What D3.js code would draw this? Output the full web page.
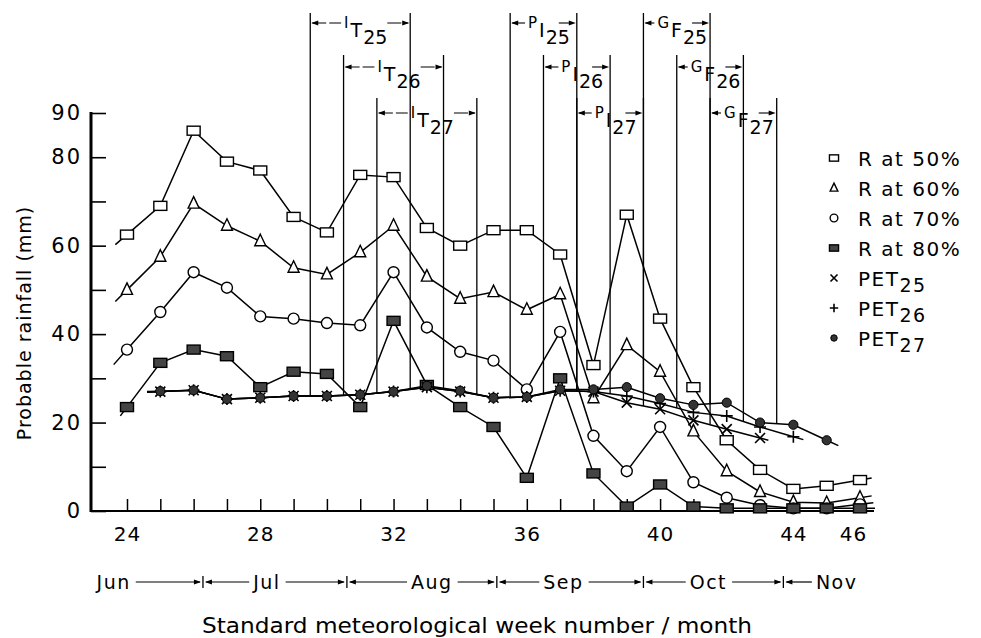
<!DOCTYPE html>
<html>
<head>
<meta charset="utf-8">
<script src="https://cdn.jsdelivr.net/npm/d3@7"></script>
<style>
body{margin:0;background:#fff;}
svg{display:block;font-family:'DejaVu Sans',sans-serif;}
</style>
</head>
<body>
<svg id="chart" width="981" height="638"></svg>
<script>
// weekly probable rainfall (mm) at each probability level, weeks 24..46
var weeks = d3.range(24, 47);
var r50 = [62.5, 69, 86, 79, 77, 66.5, 63, 76, 75.5, 64, 60, 63.5, 63.5, 58, 33, 67, 43.5, 28, 16, 9.3, 5, 5.7, 7];
var r60 = [50, 57.5, 69.5, 64.5, 61, 55, 53.5, 58.5, 64.5, 53, 48, 49.5, 45.5, 49, 25.5, 37.5, 31.5, 18, 9, 4.3, 2, 1.8, 3];
var r70 = [36.5, 45, 54, 50.5, 44, 43.5, 42.5, 42, 54, 41.5, 36, 34, 27.5, 40.5, 17, 9, 19, 6.5, 3, 1.3, 0.6, 0.6, 1.5];
var r80 = [23.5, 33.5, 36.5, 35, 28, 31.5, 31, 23.5, 43, 28.5, 23.5, 19, 7.5, 30, 8.5, 1, 6, 1, 0.6, 0.6, 0.6, 0.6, 0.6];

// potential evapotranspiration for the three years
var pet25Weeks = d3.range(25, 44);
var pet25 = [27, 27.3, 25.3, 25.6, 26, 26, 26.3, 27, 28, 27, 25.6, 25.8, 27.2, 27, 24.5, 23, 20.5, 18.5, 16.5];
var pet26Weeks = d3.range(25, 45);
var pet26 = [27, 27.3, 25.3, 25.6, 26, 26, 26.3, 27, 28, 27, 25.6, 25.8, 27.2, 27, 26, 24.3, 22.3, 21.5, 19, 16.8];
var pet27Weeks = d3.range(25, 46);
var pet27 = [27.1, 27.3, 25.3, 25.6, 26, 26, 26.3, 27, 28.3, 27.2, 25.6, 25.8, 27.5, 27.5, 28, 25.5, 24, 24.5, 20, 19.5, 16];

// crop stage windows (week numbers)
var stageSup = ['I', 'I', 'I', 'P', 'P', 'P', 'G', 'G', 'G'];
var stageMain = ['T', 'T', 'T', 'I', 'I', 'I', 'F', 'F', 'F'];
var stageYear = ['25', '26', '27', '25', '26', '27', '25', '26', '27'];
var stageStart = [29.5, 30.5, 31.5, 35.5, 36.5, 37.5, 39.5, 40.5, 41.5];
var stageEnd = [32.5, 33.5, 34.5, 37.5, 38.5, 39.5, 41.5, 42.5, 43.5];

var months = ['Jun', 'Jul', 'Aug', 'Sep', 'Oct', 'Nov'];
var monthWeek = [23.6, 28.2, 33.15, 37.1, 41.45, 45.3];
var monthBreaks = [26.28, 30.6, 35.1, 39.5, 43.7];

var xTickLabels = [24, 28, 32, 36, 40, 44, 46];
var yTickLabels = [0, 20, 40, 60, 80, 90];

var legendNames = ['R at 50%', 'R at 60%', 'R at 70%', 'R at 80%', 'PET', 'PET', 'PET'];
var legendSubs = ['', '', '', '', '25', '26', '27'];

var svg = d3.select('#chart');
var x = d3.scaleLinear().domain([24, 46]).range([127, 860]);
var y = d3.scaleLinear().domain([0, 90]).range([511, 113]);

var series = [
    {wk: weeks, v: r50, type: 'square', a: 0.35, b: 0.35},
    {wk: weeks, v: r60, type: 'tri', a: 0.35, b: 0.35},
    {wk: weeks, v: r70, type: 'circle', a: 0.4, b: 0.4},
    {wk: weeks, v: r80, type: 'fsquare', a: 0.2, b: 0.45},
    {wk: pet25Weeks, v: pet25, type: 'x', a: 0.4, b: 0.25},
    {wk: pet26Weeks, v: pet26, type: 'plus', a: 0.4, b: 0.3},
    {wk: pet27Weeks, v: pet27, type: 'dot', a: 0.4, b: 0.35}
];

function arrowHead(g, px, py, dir){
    // dir = 1 points right, -1 points left
    g.append('path')
        .attr('d', 'M' + px + ',' + py + 'L' + (px - dir * 7) + ',' + (py - 2.6) + 'L' + (px - dir * 7) + ',' + (py + 2.6) + 'Z')
        .attr('fill', '#000');
}

function valueAt(wk, v, w){
    var i = d3.bisectRight(wk, w);
    if(i <= 0) return v[0];
    if(i >= wk.length) return v[v.length - 1];
    var t = (w - wk[i - 1]) / (wk[i] - wk[i - 1]);
    return v[i - 1] + t * (v[i] - v[i - 1]);
}

function drawMarker(g, type, cx, cy, s){
    if(type == 'square' || type == 'fsquare'){
        g.append('rect')
            .attr('x', cx - 6.5 * s).attr('y', cy - 4.5 * s)
            .attr('width', 13 * s).attr('height', 9 * s)
            .attr('fill', type == 'square' ? '#fff' : '#444')
            .attr('stroke', '#000').attr('stroke-width', 1.4);
    } else if(type == 'tri'){
        g.append('path')
            .attr('d', 'M' + cx + ',' + (cy - 7 * s) + 'L' + (cx + 5.5 * s) + ',' + (cy + 4.5 * s) + 'L' + (cx - 5.5 * s) + ',' + (cy + 4.5 * s) + 'Z')
            .attr('fill', '#fff').attr('stroke', '#000').attr('stroke-width', 1.4);
    } else if(type == 'circle'){
        g.append('circle').attr('cx', cx).attr('cy', cy).attr('r', 5.5 * s)
            .attr('fill', '#fff').attr('stroke', '#000').attr('stroke-width', 1.4);
    } else if(type == 'dot'){
        g.append('circle').attr('cx', cx).attr('cy', cy).attr('r', 4.6 * s)
            .attr('fill', '#333').attr('stroke', '#000').attr('stroke-width', 1);
    } else if(type == 'x'){
        var d = 5 * s;
        g.append('path')
            .attr('d', 'M' + (cx - d) + ',' + (cy - d) + 'L' + (cx + d) + ',' + (cy + d) + 'M' + (cx - d) + ',' + (cy + d) + 'L' + (cx + d) + ',' + (cy - d))
            .attr('stroke', '#000').attr('stroke-width', 1.6);
    } else if(type == 'plus'){
        var p = 6 * s;
        g.append('path')
            .attr('d', 'M' + (cx - p) + ',' + cy + 'L' + (cx + p) + ',' + cy + 'M' + cx + ',' + (cy - p) + 'L' + cx + ',' + (cy + p))
            .attr('stroke', '#000').attr('stroke-width', 1.6);
    }
}

// ---------- crop stage brackets ----------
var rowTop = [13, 55, 98];
var rowArrow = [23, 67, 113];
var pets = [[pet25Weeks, pet25], [pet26Weeks, pet26], [pet27Weeks, pet27]];
var stages = svg.append('g').attr('class', 'stages');
stageStart.forEach(function(s, i){
    var row = i % 3;
    var L = x(s), R = x(stageEnd[i]);
    var pet = pets[row];
    [s, stageEnd[i]].forEach(function(w){
        stages.append('line')
            .attr('x1', x(w)).attr('x2', x(w))
            .attr('y1', rowTop[row]).attr('y2', y(valueAt(pet[0], pet[1], w)))
            .attr('stroke', '#000').attr('stroke-width', 1.3);
    });
    var ay = rowArrow[row];
    var t = stages.append('text').attr('y', ay + 14).attr('fill', '#000');
    t.append('tspan').attr('font-size', 15).attr('dy', -9).text(stageSup[i]);
    t.append('tspan').attr('font-size', 19).attr('dx', 2).attr('dy', 9).text(stageMain[i]);
    t.append('tspan').attr('font-size', 19).attr('dx', 1).attr('dy', 7).text(stageYear[i]);
    var w = t.node().getComputedTextLength();
    var tx = (L + R) / 2 - w / 2 + 4;
    t.attr('x', tx);
    // left arrow
    stages.append('line').attr('x1', L + 2).attr('x2', tx - 3).attr('y1', ay).attr('y2', ay)
        .attr('stroke', '#000').attr('stroke-width', 1.1).attr('stroke-dasharray', '14,3');
    arrowHead(stages, L + 1, ay, -1);
    // right arrow
    var rs = Math.min(tx + w + 3, R - 18);
    stages.append('line').attr('x1', rs).attr('x2', R - 2).attr('y1', ay).attr('y2', ay)
        .attr('stroke', '#000').attr('stroke-width', 1.1).attr('stroke-dasharray', '14,3');
    arrowHead(stages, R - 1, ay, 1);
});

// ---------- axes ----------
var yAxis = svg.append('g').attr('transform', 'translate(91,0)')
    .call(d3.axisLeft(y).tickValues(d3.range(0, 91, 10)).tickSize(-15).tickPadding(9)
        .tickFormat(function(d){ return yTickLabels.indexOf(d) >= 0 ? d : ''; }));
yAxis.select('.domain').remove();
yAxis.selectAll('.tick line').attr('stroke-width', 1.6);
yAxis.selectAll('.tick text').attr('font-size', 21).attr('font-family', 'DejaVu Sans').attr('letter-spacing', 2).attr('fill', '#000');
svg.append('line').attr('x1', 91).attr('x2', 91).attr('y1', y(90) - 1).attr('y2', y(0) + 1)
    .attr('stroke', '#000').attr('stroke-width', 3);

var xAxis = svg.append('g').attr('transform', 'translate(0,' + y(0) + ')')
    .call(d3.axisBottom(x).tickValues(weeks).tickSize(-12).tickPadding(16)
        .tickFormat(function(d){ return xTickLabels.indexOf(d) >= 0 ? d : ''; }));
xAxis.select('.domain').remove();
xAxis.selectAll('.tick line').attr('stroke-width', 1.5);
xAxis.selectAll('.tick text').attr('font-size', 20).attr('font-family', 'DejaVu Sans').attr('letter-spacing', 1).attr('fill', '#000')
    .attr('dx', function(d){ return d == 46 ? -7 : 0; });
svg.append('line').attr('x1', 90).attr('x2', 874).attr('y1', y(0)).attr('y2', y(0))
    .attr('stroke', '#000').attr('stroke-width', 2.2);

// ---------- series ----------
var line = d3.line().x(function(d){ return x(d[0]); }).y(function(d){ return y(d[1]); });
var plot = svg.append('g').attr('class', 'plot');
series.forEach(function(s){
    var pts = s.wk.map(function(w, i){ return [w, s.v[i]]; });
    var n = pts.length;
    var p0 = pts[0], p1 = pts[1], q0 = pts[n - 1], q1 = pts[n - 2];
    var start = [p0[0] - s.a, p0[1] - s.a * (p1[1] - p0[1])];
    var end = [q0[0] + s.b, Math.max(0, q0[1] + s.b * (q0[1] - q1[1]))];
    plot.append('path')
        .datum([start].concat(pts, [end]))
        .attr('d', line)
        .attr('fill', 'none').attr('stroke', '#000').attr('stroke-width', 1.5);
});
series.forEach(function(s){
    s.wk.forEach(function(w, i){
        drawMarker(plot, s.type, x(w), y(s.v[i]), 1);
    });
});

// ---------- legend ----------
var legend = svg.append('g').attr('class', 'legend');
legendNames.forEach(function(name, i){
    var cy = 158 + i * 30;
    drawMarker(legend, series[i].type, 834, cy, 0.7);
    var t = legend.append('text').attr('x', 858).attr('y', cy + 8)
        .attr('font-size', 20).attr('letter-spacing', 1.5).attr('fill', '#000');
    t.append('tspan').text(name);
    if(legendSubs[i]) t.append('tspan').attr('dy', 6).attr('font-size', 19).text(legendSubs[i]);
});

// ---------- month row ----------
var monthY = 582;
var mg = svg.append('g').attr('class', 'months');
var extents = [];
months.forEach(function(m, i){
    var t = mg.append('text').attr('x', x(monthWeek[i])).attr('y', monthY + 7)
        .attr('text-anchor', 'middle').attr('font-size', 19).attr('letter-spacing', 1.5).attr('fill', '#000').text(m);
    var w = t.node().getComputedTextLength();
    extents.push([x(monthWeek[i]) - w / 2, x(monthWeek[i]) + w / 2]);
});
monthBreaks.forEach(function(b, i){
    var bx = x(b);
    mg.append('line').attr('x1', bx).attr('x2', bx).attr('y1', monthY - 6).attr('y2', monthY + 6)
        .attr('stroke', '#000').attr('stroke-width', 1.3);
    mg.append('line').attr('x1', extents[i][1] + 5).attr('x2', bx - 3).attr('y1', monthY).attr('y2', monthY)
        .attr('stroke', '#000').attr('stroke-width', 1.2);
    arrowHead(mg, bx - 2, monthY, 1);
    mg.append('line').attr('x1', bx + 3).attr('x2', extents[i + 1][0] - 4).attr('y1', monthY).attr('y2', monthY)
        .attr('stroke', '#000').attr('stroke-width', 1.2);
    arrowHead(mg, bx + 2, monthY, -1);
});

// ---------- titles ----------
svg.append('text').attr('x', 477).attr('y', 633).attr('text-anchor', 'middle')
    .attr('font-family', "'DejaVu Sans Condensed','DejaVu Sans',sans-serif")
    .attr('font-size', 22).attr('textLength', 550).attr('lengthAdjust', 'spacingAndGlyphs')
    .attr('fill', '#000').text('Standard meteorological week number / month');

svg.append('text').attr('transform', 'translate(31,323) rotate(-90)').attr('text-anchor', 'middle')
    .attr('font-size', 19).attr('letter-spacing', 1).attr('fill', '#000').text('Probable rainfall (mm)');
</script>
</body>
</html>
